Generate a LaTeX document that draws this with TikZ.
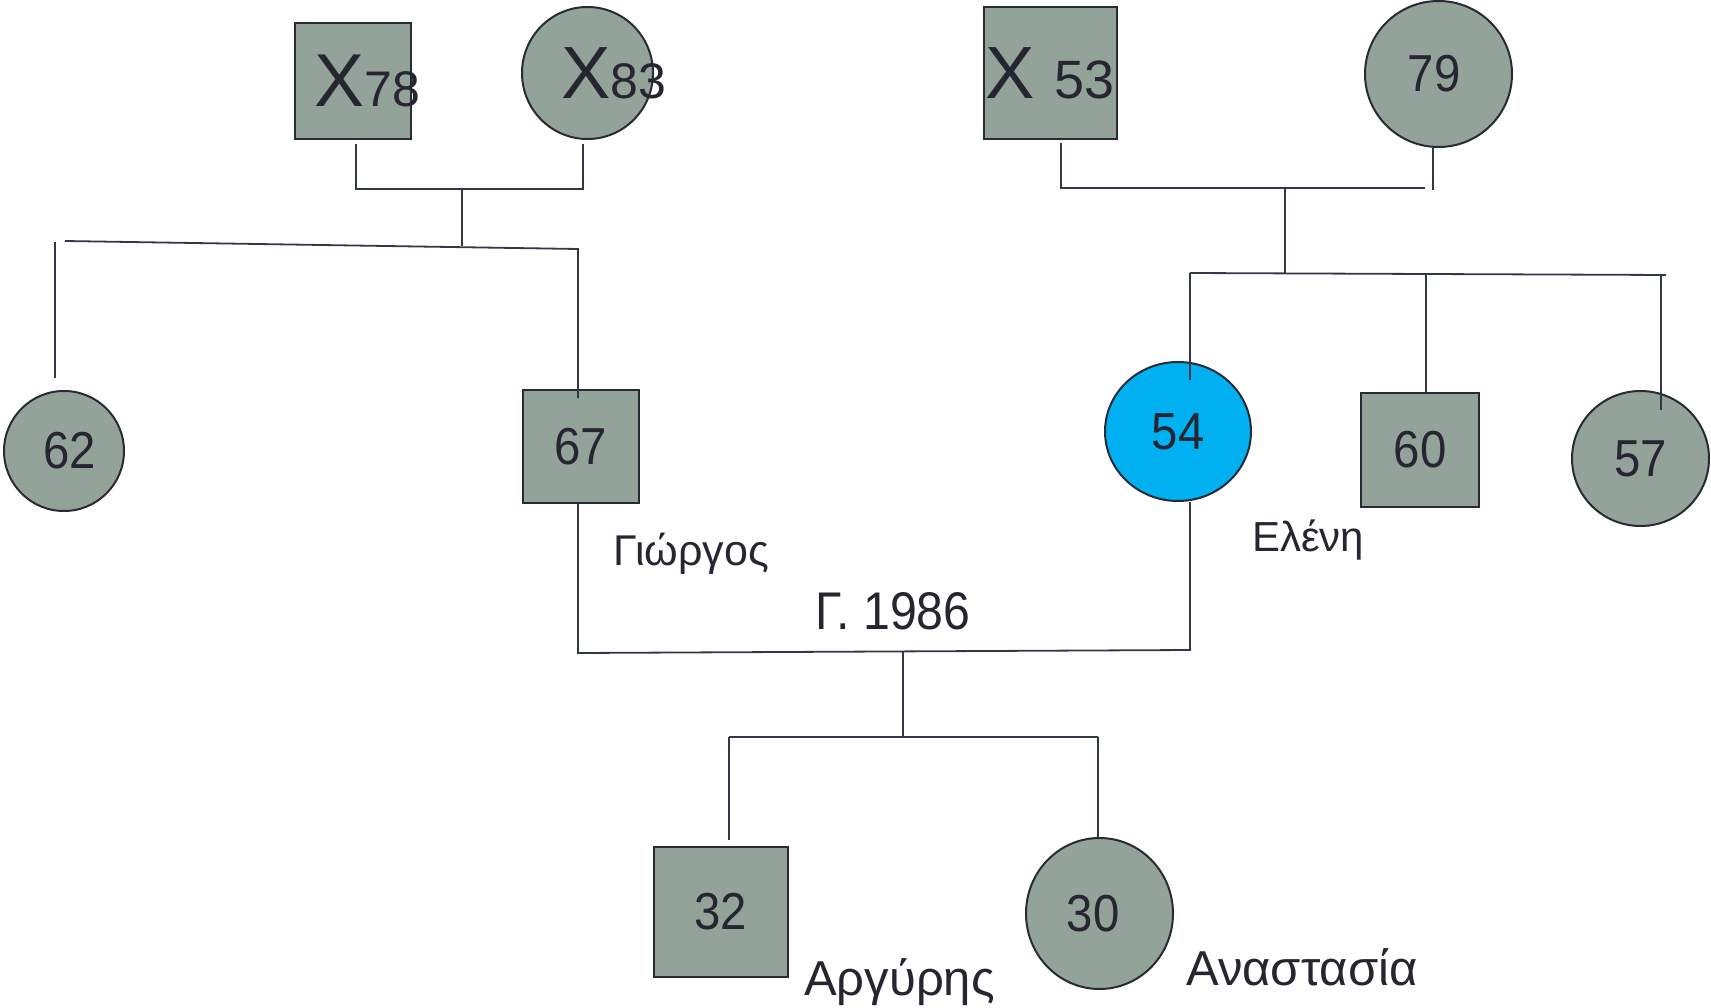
\documentclass[tikz,border=0pt]{standalone}
\usepackage{fontspec}
\setmainfont{Liberation Sans}
\newfontfamily\narrowfont[FakeStretch=0.91]{Liberation Sans}
\usetikzlibrary{shapes.geometric}
\definecolor{nodefill}{RGB}{147,163,154}
\definecolor{female}{RGB}{0,176,240}
\definecolor{edge}{RGB}{40,43,52}
\definecolor{wire}{RGB}{50,56,68}
\definecolor{ink}{RGB}{38,38,48}
\newcommand{\fs}[1]{\fontsize{#1}{#1}\selectfont}
\tikzset{
  male/.style={rectangle, draw=edge, line width=2pt, fill=nodefill, inner sep=0pt, text=ink, font=\narrowfont\fs{52}},
  fem/.style={ellipse, draw=edge, line width=2pt, fill=nodefill, inner sep=0pt, text=ink, font=\narrowfont\fs{52}},
  wireline/.style={draw=wire, line width=1.8pt},
  lbl/.style={anchor=base west, inner sep=0pt, text=ink},
}
\begin{document}
\begin{tikzpicture}[x=1pt, y=-1pt]
\useasboundingbox (0,0) rectangle (1711,1008);
% ---- nodes
\node[male, minimum width=116pt, minimum height=116pt] (x78) at (353,81) {};
\node[fem, minimum width=131pt, minimum height=132pt] (x83) at (587.5,73) {};
\node[male, minimum width=133pt, minimum height=132pt] (x53) at (1050.5,73) {};
\node[fem, minimum width=147pt, minimum height=146pt] (n79) at (1438.5,74) {\hspace*{-9pt}79};
\node[fem, minimum width=120pt, minimum height=120pt] (n62) at (64,451) {\hspace*{11pt}62};
\node[male, minimum width=116pt, minimum height=113pt] (n67) at (581,446.5) {67};
\node[fem, fill=female, minimum width=146pt, minimum height=139pt] (n54) at (1178,431.5) {54};
\node[male, minimum width=118pt, minimum height=114pt] (n60) at (1420,450) {60};
\node[fem, minimum width=137pt, minimum height=135pt] (n57) at (1640.5,458.5) {57};
\node[male, minimum width=134pt, minimum height=130pt] (n32) at (720.5,911.5) {32};
\node[fem, minimum width=147pt, minimum height=151pt] (n30) at (1099.5,913.5) {\hspace*{-13pt}30};
% ---- texts on deceased grandparents
\node[lbl] (t78) at (314,107) {{\fs{75}X}{\fs{50}78}};
\node[lbl] (t83) at (561,99) {{\fs{74}X}{\fs{50}83}};
\node[lbl] (t53) at (985,99) {{\fs{74}X}\hspace{20pt}{\fs{54}53}};
% ---- name labels
\node[lbl, font=\fs{43}] (lg) at (613,565) {Γιώργος};
\node[lbl, font=\fs{42}] (le) at (1252,551) {Ελένη};
\node[lbl, font=\narrowfont\fs{53}] (lm) at (815,629) {Γ. 1986};
\node[lbl, font=\fs{49}] (la) at (804,995) {Αργύρης};
\node[lbl, font=\fs{49}] (ln) at (1186,985) {Αναστασία};
% ---- coordinates
\coordinate (a1) at (356,144);
\coordinate (a2) at (356,189);
\coordinate (a3) at (583,189);
\coordinate (a4) at (583,144);
\coordinate (a5) at (462,189);
\coordinate (a6) at (462,246);
\coordinate (s1) at (65,241);
\coordinate (s2) at (578,249);
\coordinate (s3) at (578,398);
\coordinate (s4) at (55,242);
\coordinate (s5) at (55,378);
\coordinate (b1) at (1061,143);
\coordinate (b2) at (1061,188);
\coordinate (b3) at (1425,188);
\coordinate (b4) at (1433,148);
\coordinate (b5) at (1433,190);
\coordinate (b6) at (1285,188);
\coordinate (b7) at (1285,273);
\coordinate (c1) at (1190,273);
\coordinate (c2) at (1666,275);
\coordinate (c3) at (1190,380);
\coordinate (c4) at (1426,274);
\coordinate (c5) at (1661,275);
\coordinate (c6) at (1661,410);
\coordinate (m1) at (578,653);
\coordinate (m2) at (1190,650);
\coordinate (m3) at (903,651);
\coordinate (m4) at (903,737);
\coordinate (k1) at (729,737);
\coordinate (k2) at (1098,737);
\coordinate (k3) at (729,840);
% ---- connectors
\draw[wireline] (a1) -- (a2) -- (a3) -- (a4);
\draw[wireline] (a5) -- (a6);
\draw[wireline] (s1) -- (s2) -- (s3);
\draw[wireline] (s4) -- (s5);
\draw[wireline] (b1) -- (b2) -- (b3);
\draw[wireline] (b4) -- (b5);
\draw[wireline] (b6) -- (b7);
\draw[wireline] (c1) -- (c2);
\draw[wireline] (c1) -- (c3);
\draw[wireline] (c4) -- (c4 |- n60.north);
\draw[wireline] (c5) -- (c6);
\draw[wireline] (m1 |- n67.south) -- (m1) -- (m2) -- (m2 |- n54.south);
\draw[wireline] (m3) -- (m4);
\draw[wireline] (k1) -- (k2);
\draw[wireline] (k1) -- (k3);
\draw[wireline] (k2) -- (k2 |- n30.north);
\end{tikzpicture}
\end{document}
